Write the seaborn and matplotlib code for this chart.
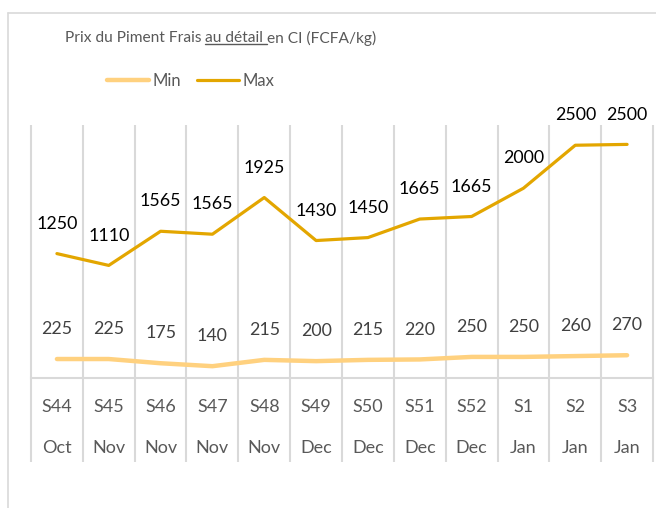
import numpy as np
import pandas as pd
import seaborn as sns
import matplotlib.pyplot as plt
from matplotlib.lines import Line2D

# data
weeks = ['S44', 'S45', 'S46', 'S47', 'S48', 'S49', 'S50', 'S51', 'S52', 'S1', 'S2', 'S3']
months = ['Oct', 'Nov', 'Nov', 'Nov', 'Nov', 'Dec', 'Dec', 'Dec', 'Dec', 'Jan', 'Jan', 'Jan']
prix_min = [225, 225, 175, 140, 215, 200, 215, 220, 250, 250, 260, 270]
prix_max = [1250, 1110, 1565, 1565, 1925, 1430, 1450, 1665, 1665, 2000, 2500, 2500]

sns.set_theme(style='white')
plt.rcParams['font.family'] = ['Lato', 'DejaVu Sans']

c_min = '#FFD17F'
c_max = '#E3A600'
grid_c = '#D9D9D9'
txt_c = '#595959'

W, H = 656, 508
fig = plt.figure(figsize=(W / 100, H / 100), dpi=100)
ax = fig.add_axes([31 / W, (H - 378) / H, (653 - 31) / W, (378 - 125) / H])

x = np.arange(len(weeks))
# excel stacked line: Max is drawn on top of Min
cumul = np.array(prix_min) + np.array(prix_max)
df = pd.DataFrame({'x': x, 'Min': prix_min, 'Max': cumul})

sns.lineplot(data=df, x='x', y='Min', ax=ax, color=c_min, lw=3.2, label='Min',
             solid_capstyle='round')
sns.lineplot(data=df, x='x', y='Max', ax=ax, color=c_max, lw=2.3, label='Max',
             solid_capstyle='round')

ax.set_xlim(-0.5, len(weeks) - 0.5)
ax.set_ylim(0, 3000)
ax.set_xlabel('')
ax.set_ylabel('')
ax.set_xticks([])
ax.set_yticks([])
for s in ['left', 'right', 'top']:
    ax.spines[s].set_visible(False)
ax.spines['bottom'].set_color(grid_c)
ax.spines['bottom'].set_linewidth(1.5)

# vertical separators (go down through the category labels)
ax.vlines(np.arange(len(weeks) + 1) - 0.5, -0.332, 1, transform=ax.get_xaxis_transform(),
          color=grid_c, lw=1.5, clip_on=False, zorder=0)

# data labels
for i in x:
    ax.annotate(str(prix_max[i]), (i, cumul[i]), xytext=(0, 21.5), textcoords='offset points',
                ha='center', va='center', fontsize=12.8, color='black')
    ax.annotate(str(prix_min[i]), (i, prix_min[i]), xytext=(0, 21.5), textcoords='offset points',
                ha='center', va='center', fontsize=12.8, color='#404040')

# two level category axis
tr = ax.get_xaxis_transform()
for i in x:
    ax.text(i, -0.115, weeks[i], transform=tr, ha='center', va='center', fontsize=13, color=txt_c)
    ax.text(i, -0.277, months[i], transform=tr, ha='center', va='center', fontsize=13, color=txt_c)

ax.legend(loc='center left', bbox_to_anchor=(92 / W, 1 - 81 / H), bbox_transform=fig.transFigure,
          ncol=2, frameon=False, fontsize=12, handlelength=2.5, handletextpad=0.2,
          columnspacing=1.0, labelcolor=txt_c)

# title with underlined part
fig.canvas.draw()
r = fig.canvas.get_renderer()
xpos = 65
ty = 1 - 38 / H
for piece, ul in [('Prix du Piment Frais ', False), ('au détail ', True), ('en CI (FCFA/kg)', False)]:
    t = fig.text(xpos / W, ty, piece, ha='left', va='center', fontsize=11.2, color=txt_c)
    bb = t.get_window_extent(renderer=r)
    if ul:
        fig.add_artist(Line2D([bb.x0 / W, bb.x1 / W], [(bb.y0 + 1) / H] * 2, color=txt_c, lw=1))
    xpos = bb.x1

# outer chart frame
fig.add_artist(Line2D([8 / W, 8 / W], [0, 1 - 13 / H], color=grid_c, lw=1.2))
fig.add_artist(Line2D([8 / W, 1], [1 - 13 / H] * 2, color=grid_c, lw=1.2))

fig.savefig('out.png', dpi=100)
